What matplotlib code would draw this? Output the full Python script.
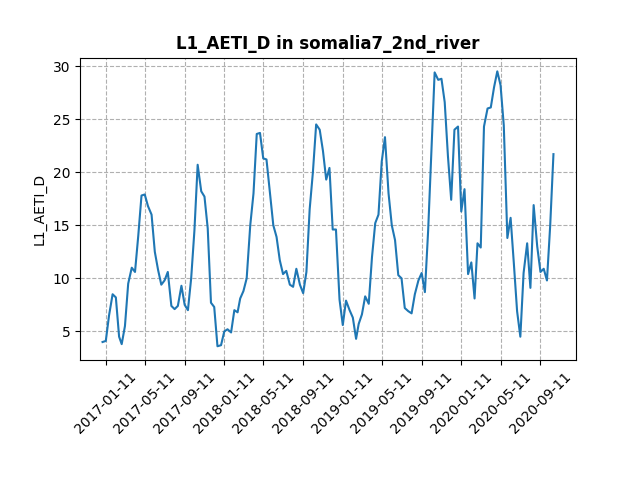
import numpy as np
import pandas as pd
import matplotlib
matplotlib.use("Agg")
import matplotlib.pyplot as plt
import matplotlib.dates as mdates

v2017 = [4.0, 4.1, 6.5, 8.5, 8.2, 4.5, 3.8, 5.5, 9.5, 11, 10.6, 14, 17.8, 17.9, 16.8, 16, 12.5, 10.8,
         9.4, 9.8, 10.6, 7.4, 7.1, 7.4, 9.3, 7.5, 7.0, 10, 14.5, 20.7, 18.2, 17.7, 14.7, 7.7, 7.3, 3.6]
v2018 = [3.7, 5.0, 5.2, 4.9, 7.0, 6.8, 8.1, 8.8, 10, 15, 18, 23.6, 23.7, 21.3, 21.2, 18, 15, 13.9,
         11.7, 10.4, 10.7, 9.4, 9.2, 10.9, 9.4, 8.6, 10.6, 16.5, 20, 24.5, 24, 22, 19.3, 20.4, 14.6, 14.6]
v2019 = [8, 5.6, 7.9, 7, 6.3, 4.3, 5.7, 6.6, 8.3, 7.6, 12, 15.2, 16, 21, 23.3, 18, 15, 13.6,
         10.3, 10, 7.2, 6.9, 6.7, 8.5, 9.8, 10.5, 8.7, 14.5, 22, 29.4, 28.7, 28.8, 26.6, 21.5, 17.4, 24]
v2020 = [24.3, 16.3, 18.4, 10.4, 11.5, 8.1, 13.3, 12.9, 24.3, 26, 26.1, 28, 29.5, 28.2, 24.4, 13.8, 15.7, 11.4,
         6.9, 4.5, 10.5, 13.3, 9.1, 16.9, 13, 10.6, 10.9, 9.8, 15, 21.7]
values = v2017 + v2018 + v2019 + v2020

dates = []
for y in range(2017, 2021):
    for m in range(1, 13):
        for d in (1, 11, 21):
            dates.append(pd.Timestamp(y, m, d))
dates = dates[:len(values)]

tick_dates = [pd.Timestamp(y, m, 11) for y in range(2017, 2021) for m in (1, 5, 9)]

fig, ax = plt.subplots(figsize=(6.4, 4.8), dpi=100)
ax.plot(dates, values)
ax.set_xticks(tick_dates)
ax.xaxis.set_major_formatter(mdates.DateFormatter("%Y-%m-%d"))
plt.setp(ax.get_xticklabels(), rotation=45)
ax.set_ylabel("L1_AETI_D")
ax.set_title("L1_AETI_D in somalia7_2nd_river", fontweight="bold")
ax.grid(True, linestyle="--")
fig.subplots_adjust(bottom=0.25)
fig.savefig("out.png")
